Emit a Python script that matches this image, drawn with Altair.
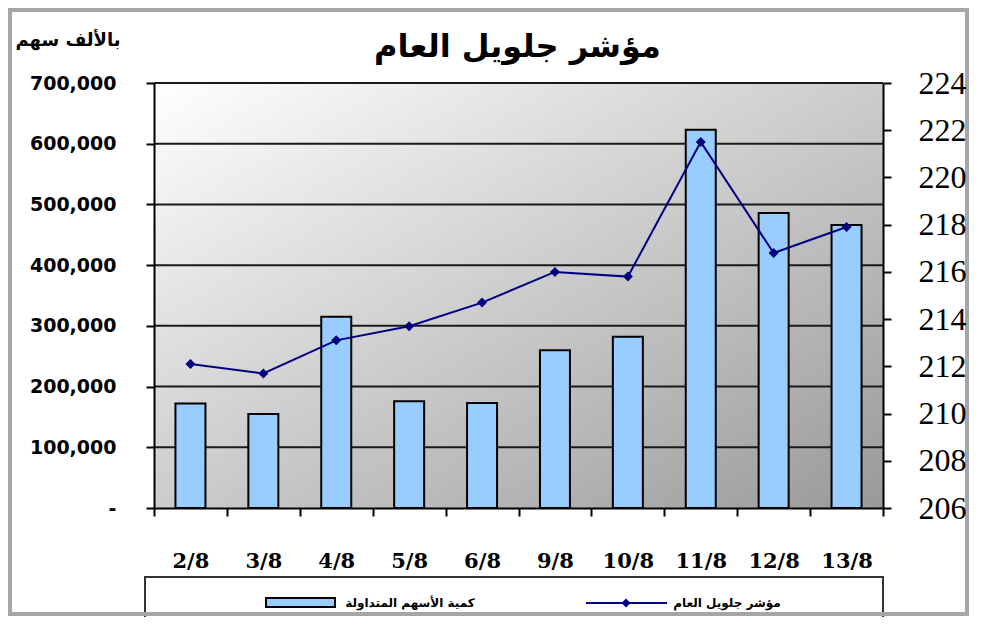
import altair as alt
import pandas as pd

# ---- data ----
dates = ["2/8", "3/8", "4/8", "5/8", "6/8", "9/8", "10/8", "11/8", "12/8", "13/8"]
volume = [172000, 155000, 315000, 176000, 173000, 260000, 282000, 623000, 486000, 466000]
index_vals = [212.1, 211.7, 213.1, 213.7, 214.7, 216.0, 215.8, 221.5, 216.8, 217.9]
left_ticks = [0, 100000, 200000, 300000, 400000, 500000, 600000, 700000]
right_ticks = [206, 208, 210, 212, 214, 216, 218, 220, 222, 224]

title_text = "مؤشر جلويل العام"
unit_text = "بالألف سهم"
bar_label = "كمية الأسهم المتداولة"
line_label = "مؤشر جلويل العام"

W, H = 729, 425

df = pd.DataFrame({"date": dates, "volume": volume, "index": index_vals})
grid_df = pd.DataFrame({"g": left_ticks[1:]})
one = alt.Data(values=[{"k": 1}])

x_enc = alt.X(
    "date:N", sort=dates, title=None,
    scale=alt.Scale(paddingInner=0, paddingOuter=0),
    axis=alt.Axis(
        labelAngle=0, tickBand="extent", tickSize=8, tickColor="black", tickWidth=2,
        domainColor="black", domainWidth=2, labelFont="DejaVu Serif",
        labelFontWeight="bold", labelFontSize=21, labelColor="black",
        labelPadding=34, grid=False, zindex=1,
    ),
)

bg = alt.Chart(one).mark_rect(
    fill=alt.Gradient(
        gradient="linear", x1=0, y1=0, x2=1, y2=1,
        stops=[alt.GradientStop(offset=0, color="#ffffff"),
               alt.GradientStop(offset=1, color="#999999")],
    )
).encode(x=alt.value(0), x2=alt.value(W), y=alt.value(0), y2=alt.value(H))

grid = alt.Chart(grid_df).mark_rule(color="#1a1a1a", strokeWidth=2).encode(
    y=alt.Y("g:Q", scale=alt.Scale(domain=[0, 700000], nice=False), axis=None)
)

bars = alt.Chart(df).mark_bar(color="#99ccff", stroke="black", strokeWidth=2, size=30).encode(
    x=x_enc,
    y=alt.Y(
        "volume:Q", title=None,
        scale=alt.Scale(domain=[0, 700000], nice=False),
        axis=alt.Axis(
            orient="left", values=left_ticks, grid=False, zindex=1,
            labelExpr="datum.value == 0 ? '-' : format(datum.value, ',')",
            labelFont="DejaVu Sans", labelFontWeight="bold", labelFontSize=19,
            labelColor="black", labelPadding=30, tickSize=8, tickColor="black",
            tickWidth=2, domainColor="black", domainWidth=2,
        ),
    ),
)

line = alt.Chart(df).mark_line(
    color="#000080", strokeWidth=2,
    point=alt.OverlayMarkDef(shape="diamond", size=100, filled=True, color="#000080"),
).encode(
    x=alt.X("date:N", sort=dates),
    y=alt.Y(
        "index:Q", title=None,
        scale=alt.Scale(domain=[206, 224], nice=False, zero=False),
        axis=alt.Axis(
            orient="right", values=right_ticks, grid=False, zindex=1,
            labelFont="Liberation Serif", labelFontSize=32, labelColor="black",
            labelPadding=27, tickSize=8, tickColor="black", tickWidth=2,
            domainColor="black", domainWidth=2,
        ),
    ),
)

title = alt.Chart(one).mark_text(
    text=title_text, font="DejaVu Sans", fontWeight="bold", fontSize=32,
    color="black", align="center", baseline="middle",
).encode(x=alt.value(W / 2 - 1), y=alt.value(-36))

unit = alt.Chart(one).mark_text(
    text=unit_text, font="DejaVu Sans", fontWeight="bold", fontSize=18,
    color="black", align="center", baseline="middle",
).encode(x=alt.value(-86), y=alt.value(-42))

# legend box and entries
leg_box = alt.Chart(one).mark_rect(fill="white", stroke="#333333", strokeWidth=2).encode(
    x=alt.value(-9), x2=alt.value(W), y=alt.value(494), y2=alt.value(545)
)
leg_swatch = alt.Chart(one).mark_rect(fill="#99ccff", stroke="black", strokeWidth=2).encode(
    x=alt.value(112), x2=alt.value(181), y=alt.value(515), y2=alt.value(524)
)
leg_bar_text = alt.Chart(one).mark_text(
    text=bar_label, font="DejaVu Sans", fontWeight="bold", fontSize=12,
    color="black", align="center", baseline="middle",
).encode(x=alt.value(256), y=alt.value(520))
leg_line = alt.Chart(one).mark_rule(color="#000080", strokeWidth=2).encode(
    x=alt.value(432), x2=alt.value(513), y=alt.value(520)
)
leg_pt = alt.Chart(one).mark_point(shape="diamond", size=80, filled=True, color="#000080", opacity=1).encode(
    x=alt.value(472), y=alt.value(520)
)
leg_line_text = alt.Chart(one).mark_text(
    text=line_label, font="DejaVu Sans", fontWeight="bold", fontSize=12,
    color="black", align="center", baseline="middle",
).encode(x=alt.value(573), y=alt.value(520))

frame = alt.Chart(one).mark_rect(fill=None, stroke="#a6a6a6", strokeWidth=4).encode(
    x=alt.value(-144), x2=alt.value(813), y=alt.value(-73), y2=alt.value(531)
)

chart = alt.layer(
    bg, grid, bars, line, title, unit,
    leg_box, leg_swatch, leg_bar_text, leg_line, leg_pt, leg_line_text, frame,
).resolve_scale(y="independent").properties(
    width=W, height=H,
    autosize=alt.AutoSizeParams(type="none"),
    padding={"left": 146, "top": 75, "right": 94, "bottom": 109},
    background="white",
).configure_view(stroke=None)

chart.save("out.html", embed_options={"renderer": "svg", "actions": False})
